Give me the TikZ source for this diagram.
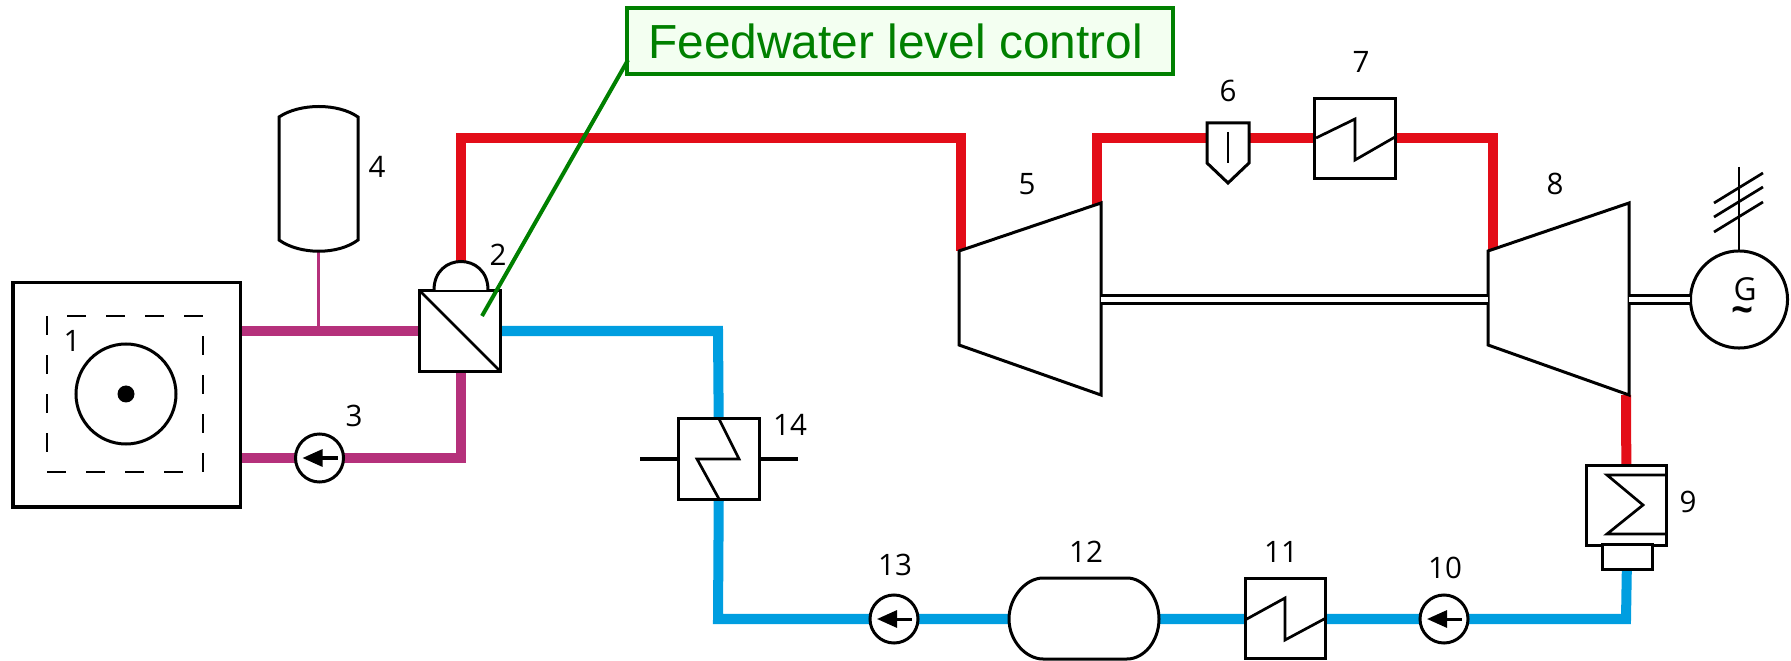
\documentclass[tikz,border=0pt]{standalone}
\usepackage{fontspec}
\setmainfont{Open Sans}
\newfontfamily\calloutfont{Liberation Sans}
\usetikzlibrary{arrows.meta}
\pgfdeclarelayer{pipes}
\pgfsetlayers{pipes,main}
\definecolor{steamred}{HTML}{E30D18}
\definecolor{loopmagenta}{HTML}{B5317B}
\definecolor{waterblue}{HTML}{009EE0}
\definecolor{calloutgreen}{HTML}{008000}
\definecolor{calloutfill}{HTML}{F3FFF1}
\tikzset{
  unit/.style={draw, fill=white, line width=.03cm, inner sep=0pt, outer sep=0pt, minimum width=.8cm, minimum height=.8cm},
  pump/.style={draw, fill=white, circle, line width=.03cm, inner sep=0pt, outer sep=0pt, minimum size=.48cm},
  tag/.style={inner sep=0pt, font=\fontsize{8.4}{10}\selectfont},
  steam/.style={draw=steamred, line width=.1cm, line join=miter},
  primary/.style={draw=loopmagenta, line width=.1cm, line join=miter},
  water/.style={draw=waterblue, line width=.1cm, line join=miter},
  body/.style={draw, fill=white, line width=.03cm, line join=miter},
  coil/.style={draw, line width=.027cm},
  shaft/.style={line width=.03cm, double, double distance=.042cm}
}

\begin{document}
\begin{tikzpicture}[x=.01cm,y=-.01cm,>={Triangle[length=.2cm,width=.17cm]}]
    \useasboundingbox (0,0) rectangle (1791,661);

    \node[unit]                 (HX2)  at (460,331)  {};
    \node[unit]                 (HX14) at (719,459)  {};
    \node[unit]                 (HX7)  at (1355,138.5) {};
    \node[unit]                 (HX11) at (1285.5,618.5) {};
    \node[unit]                 (HX9)  at (1626.5,505.5) {};
    \node[unit, minimum width=.5cm, minimum height=.24cm] (Foot) at (1627,557) {};
    \node[pump]                 (P3)   at (319.5,458) {};
    \node[pump]                 (P10)  at (1444,619) {};
    \node[pump]                 (P13)  at (894,619)  {};
    \node[pump, minimum size=.97cm] (Gen) at (1739,299.5) {};

    \coordinate (R1)    at (240,331);
    \coordinate (R2)    at (240,458);
    \coordinate (T5in)  at (961,251);
    \coordinate (T5out) at (1097,205);
    \coordinate (T8in)  at (1493,250);
    \coordinate (T8out) at (1626,395);
    \coordinate (T5end) at (1101,299.5);
    \coordinate (T8beg) at (1488,299.5);
    \coordinate (T8end) at (1629,299.5);
    \coordinate (A1)    at (961,138);
    \coordinate (A2)    at (1097,138);
    \coordinate (A3)    at (1493,138);
    \coordinate (B1)    at (718,331);
    \coordinate (B2)    at (718,619);
    \coordinate (B3)    at (1626,619);
    \coordinate (D1)    at (461,458);
    \coordinate (Vbot)  at (318.5,251);
    \coordinate (Vtee)  at (318.5,331);
    \coordinate (Dome)  at (461,263);
    \coordinate (W14a)  at (640,459);
    \coordinate (W14b)  at (798,459);
    \coordinate (Wtop)  at (1739,167);
    \coordinate (Lfrom) at (628,60);
    \coordinate (Lto)   at (482,316);

    \begin{pgfonlayer}{pipes}
      \draw[primary] (R1) -- (HX2);
      \draw[primary] (461,371) -- (D1) -- (R2);
      \draw[loopmagenta, line width=.025cm] (Vbot) -- (Vtee);
      \draw[steam] (Dome) |- (A1) -- (T5in);
      \draw[steam] (T5out) -- (A2) -- (A3) -- (T8in);
      \draw[steam] (T8out) -- (HX9);
      \draw[water] (HX2) -- (B1) -- (HX14);
      \draw[water] (HX14) -- (B2) -- (B3) -- (Foot);
      \draw[line width=.03cm] (W14a) -- (W14b);
    \end{pgfonlayer}

    \draw[body] (13,283) rectangle (240,507);
    \draw[line width=.027cm, dash pattern=on .19cm off .2cm] (47,316) rectangle (203,472);
    \draw[line width=.03cm] (126,394) circle (50);
    \fill (126,394) circle (8.5);

    \draw[body] (279,117) .. controls (300,103) and (338,103) .. (358,117) -- (358,240)
      .. controls (338,255) and (300,255) .. (279,240) -- cycle;
    \draw[body] (434,290) .. controls (434,252) and (488,252) .. (488,290);
    \draw[coil] (HX2.north west) -- (HX2.south east);

    \draw[coil] (719,419) -- (739,459) -- (697,459) -- (719,499);
    \draw[coil] (1316,138) -- (1355,119) -- (1355,160) -- (1395,137);
    \draw[coil] (1245,620) -- (1285,598) -- (1285,640) -- (1326,618);
    \draw[coil] (1666,475) -- (1607,475) -- (1643,505) -- (1607,534) -- (1666,534);

    \draw[body] (1009,619) .. controls (1009,597) and (1026,578) .. (1043,578) -- (1127,578)
      .. controls (1144,578) and (1159,597) .. (1159,619)
      .. controls (1159,641) and (1144,659) .. (1127,659) -- (1043,659)
      .. controls (1026,659) and (1009,641) .. (1009,619) -- cycle;

    \draw[body] (1207,123) -- (1249,123) -- (1249,163) -- (1228,183) -- (1207,163) -- cycle;
    \draw[coil] (1228,132) -- (1228,163);

    \draw[body] (959,251) -- (1101,203) -- (1101,395) -- (959,345) -- cycle;
    \draw[body] (1488,251) -- (1629,203) -- (1629,395) -- (1488,345) -- cycle;
    \draw[shaft] (T5end) -- (T8beg);
    \draw[shaft] (T8end) -- (Gen);
    \draw[coil] (Wtop) -- (Gen);
    \foreach \y in {173,187,202}
      \draw[coil] (1714,\y+30) -- (1763,\y);

    \foreach \n in {P3,P10,P13}
      \draw[->, line width=.03cm] ([xshift=.18cm]\n.center) -- ([xshift=-.17cm]\n.center);

    \node[tag] (N1)  at (72,341)   {1};
    \node[tag] (N2)  at (498,255)  {2};
    \node[tag] (N3)  at (354,416)  {3};
    \node[tag] (N4)  at (377,167)  {4};
    \node[tag] (N5)  at (1027,184) {5};
    \node[tag] (N6)  at (1228,91)  {6};
    \node[tag] (N7)  at (1361,62)  {7};
    \node[tag] (N8)  at (1555,184) {8};
    \node[tag] (N9)  at (1688,502) {9};
    \node[tag] (N10) at (1445,568) {10};
    \node[tag] (N11) at (1281,552) {11};
    \node[tag] (N12) at (1086,552) {12};
    \node[tag] (N13) at (895,565)  {13};
    \node[tag] (N14) at (790,425)  {14};
    \node[tag, font=\fontsize{9}{10}\selectfont] (NG) at (1745,289) {G};
    \node[tag, font=\fontsize{11}{11}\selectfont\bfseries] (NT) at (1743,315) {\textasciitilde};

    \node[draw=calloutgreen, fill=calloutfill, line width=.036cm, inner sep=0pt,
      minimum width=5.46cm, minimum height=.66cm, text=calloutgreen,
      font=\calloutfont\fontsize{13.6}{16}\selectfont] (Feed) at (900,41) {Feedwater level control\kern.09cm};
    \draw[calloutgreen, line width=.04cm] (Lfrom) -- (Lto);
  \end{tikzpicture}
\end{document}
